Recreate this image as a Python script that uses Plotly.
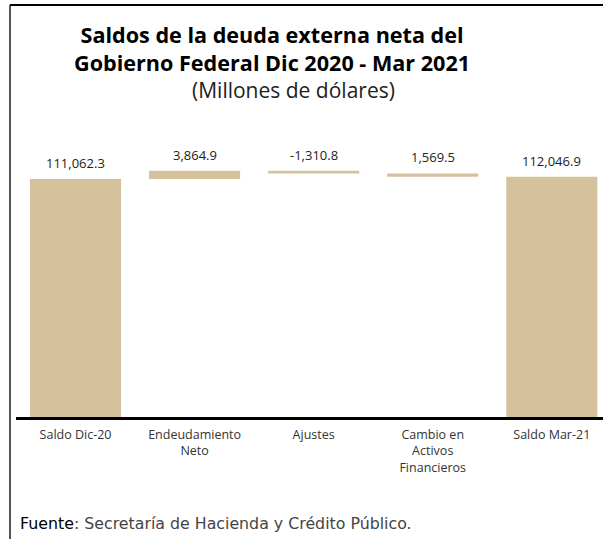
import plotly.graph_objects as go

categories = ["Saldo Dic-20", "Endeudamiento<br>Neto", "Ajustes", "Cambio en<br>Activos<br>Financieros", "Saldo Mar-21"]
measures = ["absolute", "relative", "relative", "relative", "total"]
effects = [111062.3, 3864.9, -1310.8, -1569.5, None]
label_values = [111062.3, 3864.9, -1310.8, 1569.5, 112046.9]

BAR = "#D5C29C"
FONT = "Open Sans"

fig = go.Figure()
fig.add_trace(go.Waterfall(
    x=categories, y=[v if v is not None else 0 for v in effects], measure=measures,
    increasing=dict(marker=dict(color=BAR)),
    decreasing=dict(marker=dict(color=BAR)),
    totals=dict(marker=dict(color=BAR)),
    connector=dict(visible=False),
    textposition="none", hoverinfo="skip", width=0.765,
))

# label positions: top of each bar computed from cumulative values
tops = []
running = 0.0
for m, v in zip(measures, effects):
    if m == "absolute":
        running = v
        tops.append(v)
    elif m == "relative":
        prev = running
        running += v
        tops.append(max(prev, running))
    else:
        tops.append(running)

for c, t, lv in zip(categories, tops, label_values):
    fig.add_annotation(x=c, y=t, text=f"{lv:,.1f}", showarrow=False,
                       yanchor="middle", yshift=16,
                       font=dict(family=FONT, size=13, color="#222222"))

fig.update_layout(
    width=603, height=539,
    margin=dict(l=16, r=0, t=130, b=122),
    paper_bgcolor="white", plot_bgcolor="white",
    showlegend=False,
    font=dict(family=FONT, color="#333333"),
    xaxis=dict(type="category", range=[-0.5, 4.43], showline=True, linecolor="black",
               linewidth=3, ticks="outside", ticklen=4, tickcolor="rgba(0,0,0,0)",
               tickfont=dict(size=12.5, color="#333333"),
               showgrid=False, zeroline=False),
    yaxis=dict(range=[0, 133900], visible=False, showgrid=False, zeroline=False),
)

fig.add_annotation(xref="paper", yref="paper", x=(272 - 16) / 587, y=1 + (130 - 49) / 287,
                   text="<b>Saldos de la deuda externa neta del<br>Gobierno Federal Dic 2020 - Mar 2021</b>",
                   showarrow=False, xanchor="center", yanchor="middle",
                   font=dict(family=FONT, size=21.6, color="black"))
fig.add_annotation(xref="paper", yref="paper", x=(293 - 16) / 587, y=1 + (130 - 90) / 287,
                   text="(Millones de dólares)", showarrow=False, xanchor="center", yanchor="middle",
                   font=dict(family=FONT, size=21, color="#222222"))
fig.add_annotation(xref="paper", yref="paper", x=(18 - 16) / 587, y=-(523 - 417) / 287,
                   text="<span style='color:black'>Fuente</span>: Secretaría de Hacienda y Crédito Público.",
                   showarrow=False, xanchor="left", yanchor="middle",
                   font=dict(family="DejaVu Sans", size=15.8, color="#444444"))

# frame lines (left and top)
fig.add_shape(type="line", xref="paper", yref="paper", x0=(10 - 16) / 587, x1=(10 - 16) / 587,
              y0=1 + (130 - 5) / 287, y1=-(539 - 417) / 287, line=dict(color="#555555", width=2))
fig.add_shape(type="line", xref="paper", yref="paper", x0=(10 - 16) / 587, x1=1.0,
              y0=1 + (130 - 5) / 287, y1=1 + (130 - 5) / 287, line=dict(color="black", width=2))

fig.write_html("out.html", config={"displayModeBar": False},
               post_script="document.body.style.margin='0';")
